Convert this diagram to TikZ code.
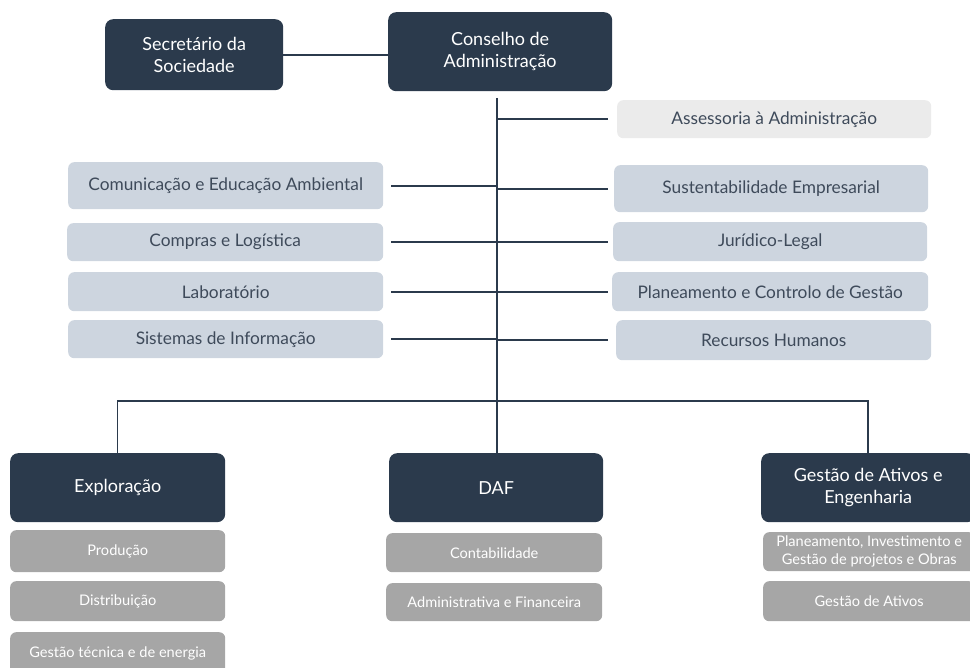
\documentclass[tikz,border=0pt]{standalone}
\usepackage{fontspec}
\setmainfont{Lato}
\begin{document}
\begin{tikzpicture}[x=1pt,y=-1pt,
  darkbox/.style={fill=navy, rounded corners=8pt, text=white, align=center, font=\fontsize{18}{22.5}\selectfont, inner sep=1pt},
  lightbox/.style={fill=lightblue, rounded corners=6pt, text=textblue, align=center, font=\fontsize{17.3}{20}\selectfont, inner sep=1pt},
  palebox/.style={fill=palegrey, rounded corners=6pt, text=textblue, align=center, font=\fontsize{17.3}{20}\selectfont, inner sep=1pt},
  greybox/.style={fill=midgrey, rounded corners=6pt, text=white, align=center, font=\fontsize{14.6}{17.5}\selectfont, inner sep=1pt},
  link/.style={draw=navy, line width=2pt},
  buslink/.style={draw=navy, line width=1.5pt}]
\definecolor{navy}{HTML}{2B3A4C}
\definecolor{lightblue}{HTML}{CDD5DF}
\definecolor{palegrey}{HTML}{EBEBEB}
\definecolor{midgrey}{HTML}{A6A6A6}
\definecolor{textblue}{HTML}{3E4A5A}
\useasboundingbox (0,0) rectangle (970,668);
\begin{scope}
\clip (0,0) rectangle (970,668);
% top
\node[darkbox, minimum width=178pt, minimum height=71pt, anchor=north west] (sec) at (105,19) {Secretário da\\Sociedade};
\node[darkbox, minimum width=224pt, minimum height=79pt, anchor=north west] (cons) at (388,12) {Conselho de\\Administração};
\node[palebox, minimum width=314pt, minimum height=38pt, anchor=north west] (ass) at (617,100) {Assessoria à Administração};
% left column
\node[lightbox, minimum width=315pt, minimum height=47pt, anchor=north west] (com) at (68,162) {Comunicação e Educação Ambiental};
\node[lightbox, minimum width=316pt, minimum height=38pt, anchor=north west] (cmp) at (67,223) {Compras e Logística};
\node[lightbox, minimum width=315pt, minimum height=39pt, anchor=north west] (lab) at (68,272) {Laboratório};
\node[lightbox, minimum width=315pt, minimum height=38pt, anchor=north west] (sis) at (68,320) {Sistemas de Informação};
% right column
\node[lightbox, minimum width=314pt, minimum height=47pt, anchor=north west] (sus) at (614,165) {Sustentabilidade Empresarial};
\node[lightbox, minimum width=314pt, minimum height=39pt, anchor=north west] (jur) at (613,222) {Jurídico-Legal};
\node[lightbox, minimum width=316pt, minimum height=39pt, anchor=north west] (pla) at (612,272) {Planeamento e Controlo de Gestão};
\node[lightbox, minimum width=315pt, minimum height=40pt, anchor=north west] (rec) at (616,320) {Recursos Humanos};
% bottom
\node[darkbox, minimum width=215pt, minimum height=69pt, anchor=north west] (exp) at (10,453) {Exploração};
\node[darkbox, minimum width=214pt, minimum height=69pt, anchor=north west] (daf) at (389,453) {DAF};
\node[darkbox, minimum width=214pt, minimum height=69pt, anchor=north west] (gae) at (761,453) {Gestão de Ativos e\\Engenharia};
\node[greybox, minimum width=215pt, minimum height=42pt, anchor=north west] (pro) at (10,530) {Produção};
\node[greybox, minimum width=215pt, minimum height=40pt, anchor=north west] (dis) at (10,581) {Distribuição};
\node[greybox, minimum width=215pt, minimum height=42pt, anchor=north west] (gte) at (10,632) {Gestão técnica e de energia};
\node[greybox, minimum width=216pt, minimum height=39pt, anchor=north west] (con) at (386,533) {Contabilidade};
\node[greybox, minimum width=216pt, minimum height=38pt, anchor=north west] (adm) at (386,583) {Administrativa e Financeira};
\node[greybox, minimum width=212pt, minimum height=39pt, anchor=north west] (pig) at (763,532) {Planeamento, Investimento e\\Gestão de projetos e Obras};
\node[greybox, minimum width=212pt, minimum height=40pt, anchor=north west] (gat) at (763,581) {Gestão de Ativos};
% spine
\coordinate (top) at (497,98);
\coordinate (bus) at (497,401);
\draw[link] (sec.east) -- (sec.east -| cons.west);
\draw[link] (top) -- (daf.north -| top);
\draw[buslink] (exp.north) |- (bus) -| (gae.north);
% side links
\draw[link] (top |- ass.west) -- ([xshift=-9pt]ass.west);
\draw[link] (top |- sus.west) -- ([xshift=-6pt]sus.west);
\draw[link] (top |- jur.west) -- ([xshift=-5pt]jur.west);
\draw[link] (top |- pla.west) -- ([xshift=-4pt]pla.west);
\draw[link] (top |- rec.west) -- ([xshift=-8pt]rec.west);
\draw[link] ([xshift=8pt]com.east) -- (com.east -| top);
\draw[link] ([xshift=8pt]cmp.east) -- (cmp.east -| top);
\draw[link] ([xshift=8pt]lab.east) -- (lab.east -| top);
\draw[link] ([xshift=8pt]sis.east) -- (sis.east -| top);
\end{scope}
\end{tikzpicture}
\end{document}
